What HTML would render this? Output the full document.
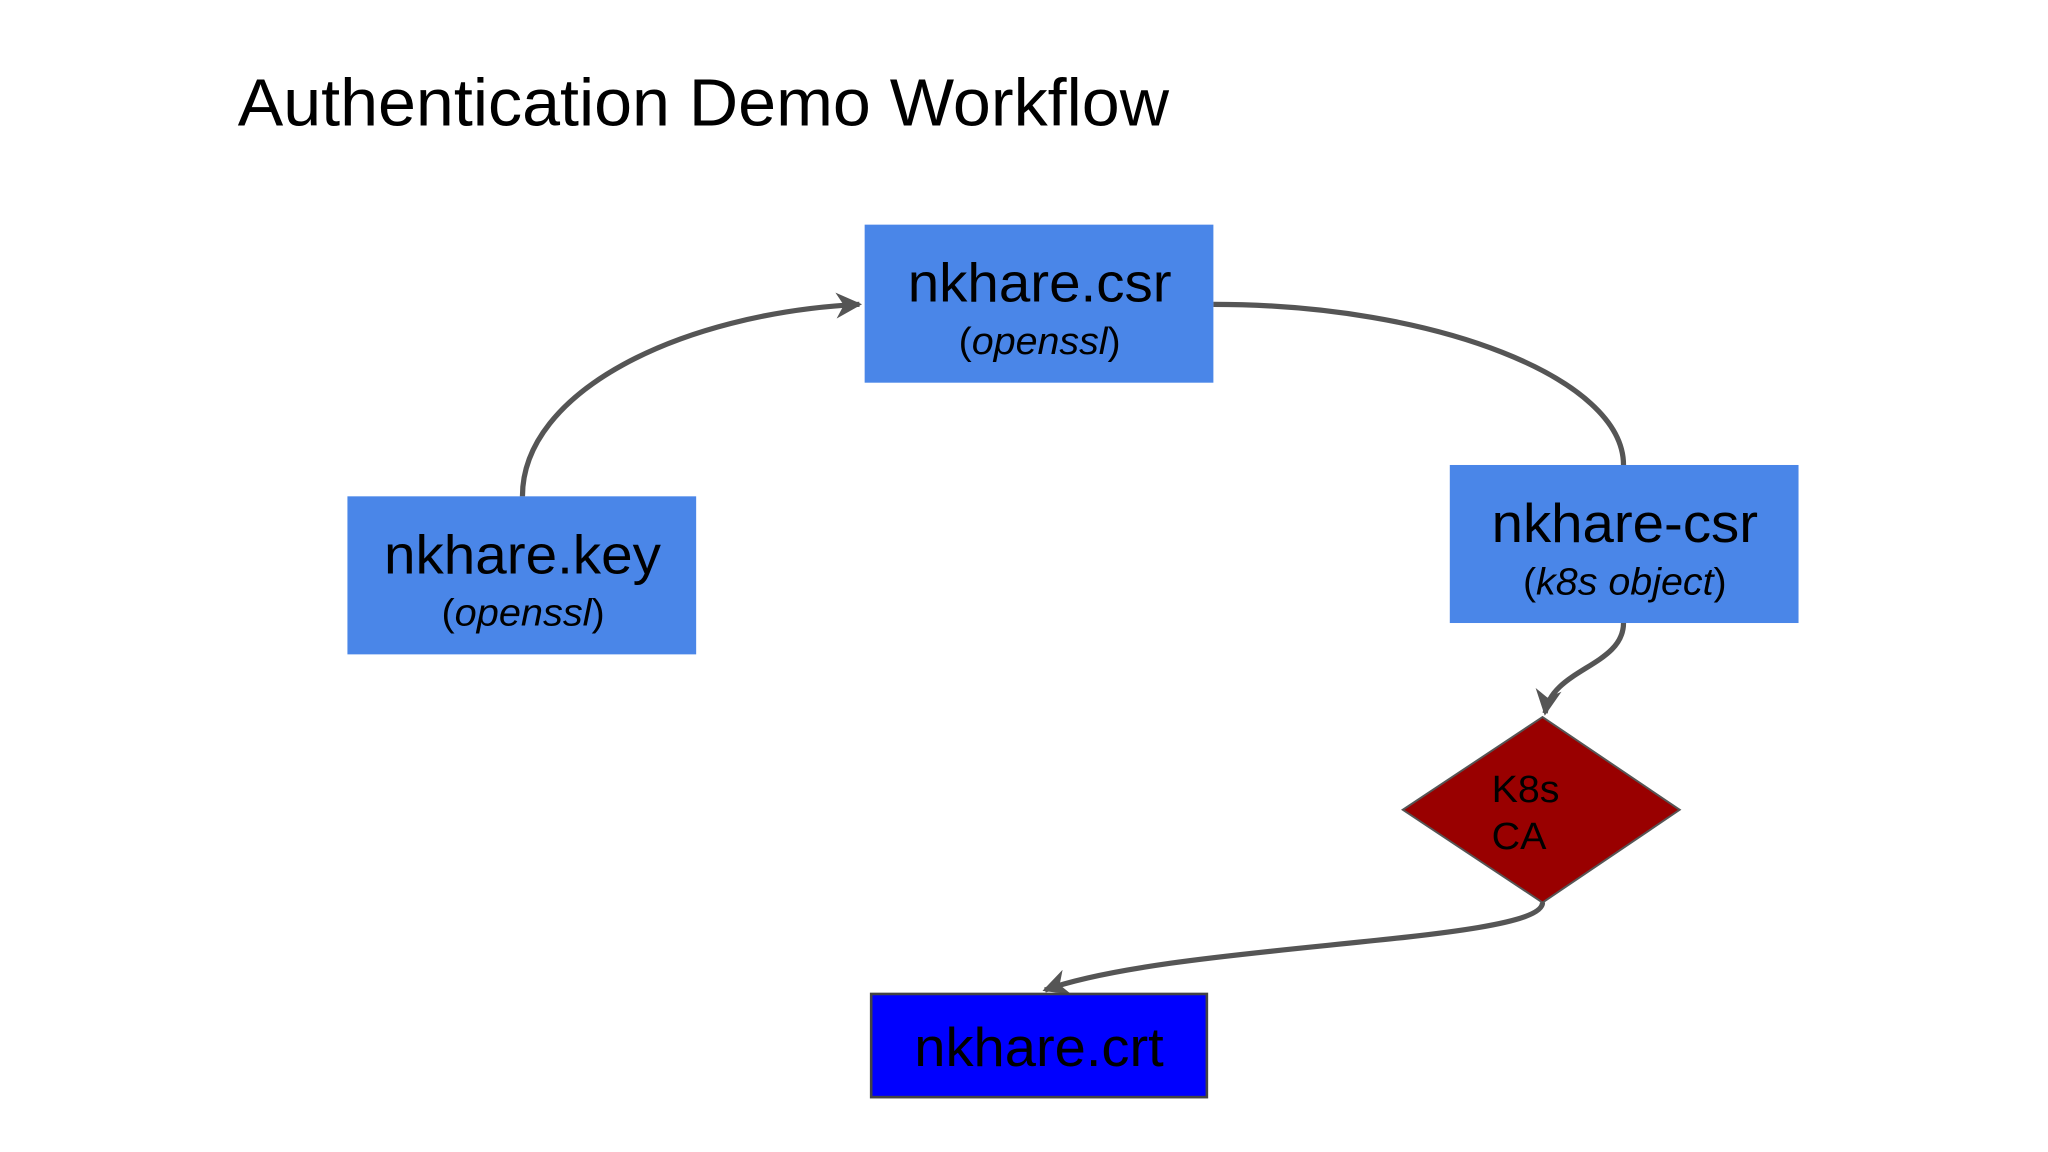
<!DOCTYPE html>
<html><head><meta charset="utf-8"><style>
html,body{margin:0;padding:0;background:#fff;}
svg{display:block;}
</style></head><body>
<svg width="2048" height="1152" viewBox="0 0 1568 882" xmlns="http://www.w3.org/2000/svg">
<defs>
<marker id="a" viewBox="0 0 10 10" refX="9" refY="5" markerWidth="5" markerHeight="5" orient="auto" markerUnits="strokeWidth">
<path d="M0,0 L10,5 L0,10 L3,5 z" fill="#555"/>
</marker>
</defs>
<rect width="1568" height="882" fill="#fff"/>
<text x="182" y="96" font-family="Liberation Sans, sans-serif" font-size="51" textLength="713" lengthAdjust="spacingAndGlyphs" fill="#000">Authentication Demo Workflow</text>
<g fill="none" stroke="#555" stroke-width="4">
<path d="M400,380 C400,300 520,240 658,233" marker-end="url(#a)"/>
<path d="M929,233 C1100,233 1243,290 1243,356"/>
<path d="M1243,477 C1243,510 1188,512 1183,546" marker-end="url(#a)"/>
<path d="M1181,691 C1181,722 900,722 800,758" marker-end="url(#a)"/>
</g>
<rect x="662" y="172" width="267" height="121" fill="#4a86e8"/>
<rect x="266" y="380" width="267" height="121" fill="#4a86e8"/>
<rect x="1110" y="356" width="267" height="121" fill="#4a86e8"/>
<rect x="667" y="761" width="257" height="79" fill="#0000ff" stroke="#444" stroke-width="2"/>
<polygon points="1181,549 1286,620 1181,691 1074,620" fill="#990000" stroke="#555" stroke-width="1.5"/>
<g font-family="Liberation Sans, sans-serif" fill="#000" lengthAdjust="spacingAndGlyphs">
<text x="695" y="231" font-size="42" textLength="202" lengthAdjust="spacingAndGlyphs">nkhare.csr</text>
<text x="734" y="271" font-size="29" textLength="124" lengthAdjust="spacingAndGlyphs">(<tspan font-style="italic">openssl</tspan>)</text>
<text x="294" y="439" font-size="42" textLength="212" lengthAdjust="spacingAndGlyphs">nkhare.key</text>
<text x="338" y="479" font-size="29" textLength="125" lengthAdjust="spacingAndGlyphs">(<tspan font-style="italic">openssl</tspan>)</text>
<text x="1142" y="415" font-size="42" textLength="204" lengthAdjust="spacingAndGlyphs">nkhare-csr</text>
<text x="1166" y="455" font-size="29" textLength="156" lengthAdjust="spacingAndGlyphs">(<tspan font-style="italic">k8s object</tspan>)</text>
<text x="700" y="816" font-size="42" textLength="191" lengthAdjust="spacingAndGlyphs">nkhare.crt</text>
<text x="1142" y="614" font-size="29" textLength="52" lengthAdjust="spacingAndGlyphs">K8s</text>
<text x="1142" y="650" font-size="29" textLength="42" lengthAdjust="spacingAndGlyphs">CA</text>
</g>
</svg>
</body></html>
